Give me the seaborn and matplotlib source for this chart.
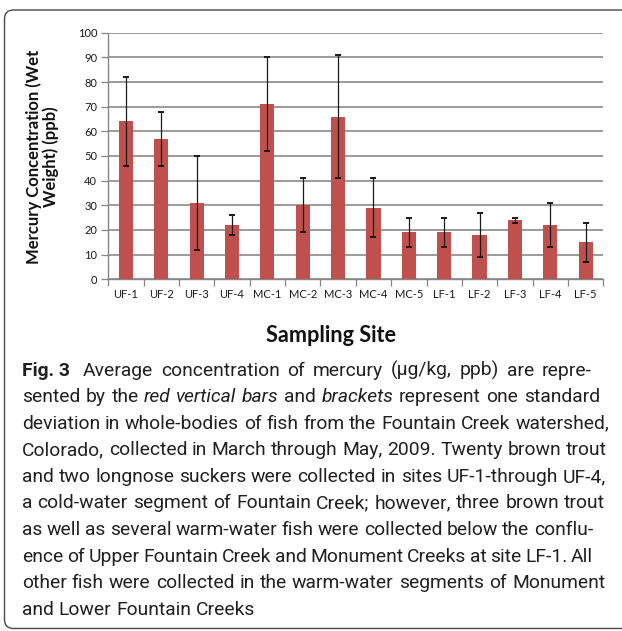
import numpy as np
import pandas as pd
import matplotlib
matplotlib.use("Agg")
import matplotlib.pyplot as plt
import matplotlib.transforms as mtransforms
from matplotlib.patches import FancyBboxPatch
import seaborn as sns

# ---- data ----
sites = ["UF-1", "UF-2", "UF-3", "UF-4", "MC-1", "MC-2", "MC-3", "MC-4", "MC-5",
         "LF-1", "LF-2", "LF-3", "LF-4", "LF-5"]
mean_hg = [64, 57, 31, 22, 71, 30, 66, 29, 19, 19, 18, 24, 22, 15]
sd_hg = [18, 11, 19, 4, 19, 11, 25, 12, 6, 6, 9, 1, 9, 8]
yticks = [0, 10, 20, 30, 40, 50, 60, 70, 80, 90, 100]
ylabel_lines = ["Mercury Concentration (Wet", "Weight) (ppb)"]
xlabel = "Sampling Site"

caption_lines = [
    [("Fig. 3", "b"), ("Average concentration of mercury (µg/kg, ppb) are repre-", "n")],
    [("sented by the", "n"), ("red vertical bars", "i"), ("and", "n"), ("brackets", "i"),
     ("represent one standard", "n")],
    [("deviation in whole-bodies of fish from the Fountain Creek watershed,", "n")],
    [("Colorado, collected in March through May, 2009. Twenty brown trout", "n")],
    [("and two longnose suckers were collected in sites UF-1-through UF-4,", "n")],
    [("a cold-water segment of Fountain Creek; however, three brown trout", "n")],
    [("as well as several warm-water fish were collected below the conflu-", "n")],
    [("ence of Upper Fountain Creek and Monument Creeks at site LF-1. All", "n")],
    [("other fish were collected in the warm-water segments of Monument", "n")],
    [("and Lower Fountain Creeks", "n")],
]

df = pd.DataFrame({"site": sites, "mean": mean_hg, "sd": sd_hg})

# ---- figure ----
W, H = 622, 631
sns.set_style("white")
chart_font = ["Lato", "DejaVu Sans"]
cap_font = ["Roboto", "DejaVu Sans"]
plt.rcParams["font.family"] = chart_font

fig = plt.figure(figsize=(W / 100, H / 100), dpi=100)
renderer = fig.canvas.get_renderer()
ident = mtransforms.IdentityTransform()

def measure(s, fs, family, weight="normal", style="normal"):
    t = fig.text(0, 0, s, fontsize=fs, family=family, fontweight=weight,
                 fontstyle=style, transform=ident)
    w = t.get_window_extent(renderer).width
    t.remove()
    return w

def fit_size(s, target, family, weight="normal", style="normal"):
    return 12.0 * target / measure(s, 12.0, family, weight, style)

ax_l, ax_r, ax_t, ax_b = 108.3, 603.3, 32.7, 279.3
ax = fig.add_axes([ax_l / W, (H - ax_b) / H, (ax_r - ax_l) / W, (ax_b - ax_t) / H])

bar_color = "#C0504D"
sns.barplot(data=df, x="site", y="mean", color=bar_color, saturation=1,
            width=0.4, errorbar=None, ax=ax, zorder=3, linewidth=0)
ax.errorbar(x=np.arange(len(sites)), y=df["mean"], yerr=df["sd"], fmt="none",
            ecolor="#1a1a1a", elinewidth=0.9, capsize=2.2, capthick=1.4, zorder=4)

tick_fs = fit_size("UF-1", 25, chart_font)
ax.set_ylim(0, 100)
ax.set_xlim(-0.5, len(sites) - 0.5)
ax.set_yticks(yticks)
ax.set_yticklabels([str(v) for v in yticks], fontsize=tick_fs, color="#1a1a1a")
ax.tick_params(axis="y", length=5, width=0.9, color="#868686", pad=3, direction="out", left=True)
ax.tick_params(axis="x", which="major", length=0, pad=7, labelsize=tick_fs, labelcolor="#1a1a1a")
ax.set_xticks(np.arange(-0.5, len(sites)), minor=True)
ax.tick_params(axis="x", which="minor", length=5, width=0.9, color="#868686", direction="out", bottom=True)

ax.yaxis.grid(True, color="#8a8a8a", linewidth=1.2, zorder=0)
ax.set_axisbelow(True)
for s in ["top", "right"]:
    ax.spines[s].set_visible(False)
for s in ["left", "bottom"]:
    ax.spines[s].set_color("#868686")
    ax.spines[s].set_linewidth(1.0)

ylab_fs = fit_size(ylabel_lines[0], 214, chart_font, "bold")
ax.set_ylabel("\n".join(ylabel_lines), fontsize=ylab_fs, fontweight="bold",
              linespacing=1.0, multialignment="center", color="#111111")
ax.yaxis.set_label_coords((42.5 - ax_l) / (ax_r - ax_l), (ax_b - 157) / (ax_b - ax_t))
ax.yaxis.label.set_va("center")
xlab_fs = fit_size(xlabel, 129, chart_font, "bold")
ax.set_xlabel(xlabel, fontsize=xlab_fs, fontweight="bold", color="#111111")
ax.xaxis.set_label_coords((331 - ax_l) / (ax_r - ax_l), (ax_b - 335) / (ax_b - ax_t))
ax.xaxis.label.set_va("center")

# ---- rounded border (open at right) ----
border = FancyBboxPatch((4.5 / 100, 2.5 / 100), 6.5, (H - 10 - 2.5) / 100,
                        boxstyle="round,pad=0,rounding_size=0.09",
                        transform=fig.dpi_scale_trans, fill=False,
                        edgecolor="#4a4a4a", linewidth=1.0, clip_on=False)
fig.add_artist(border)

# ---- caption, justified ----
cap_color = "#231f20"

def style_kw(st):
    return dict(weight="bold" if st == "b" else "normal",
                style="italic" if st == "i" else "normal")

x0 = 22.0
right_edges = [592, 600, 609, 607, 606, 605, 593, 593, 605, None]
cap_fs = fit_size(caption_lines[2][0][0], 609 - x0 - 2, cap_font)

space_w = measure("a a", cap_fs, cap_font) - measure("aa", cap_fs, cap_font)
base0, step = 375.5, 26.6
for i, runs in enumerate(caption_lines):
    tokens = []
    for text, st in runs:
        if st == "b":
            tokens.append((text, st, 1.0))
        else:
            for wd in text.split(" "):
                tokens.append((wd, st, 0.0))
    widths = [measure(t, cap_fs, cap_font, **style_kw(st)) for t, st, _ in tokens]
    extra = sum(e for _, _, e in tokens[:-1]) * space_w
    n_gaps = len(tokens) - 1
    xr = right_edges[i]
    if xr is None or n_gaps == 0:
        gap = space_w
    else:
        gap = (xr - x0 - sum(widths) - extra) / n_gaps
        gap = max(gap, 0.6 * space_w)
    x = x0
    yb = H - (base0 + step * i)
    for (t, st, e), w in zip(tokens, widths):
        kw = style_kw(st)
        fig.text(x, yb, t, fontsize=cap_fs, family=cap_font, transform=ident,
                 va="baseline", ha="left", color=cap_color,
                 fontweight=kw["weight"], fontstyle=kw["style"])
        x += w + gap + e * space_w

fig.savefig("out.png", dpi=100)
